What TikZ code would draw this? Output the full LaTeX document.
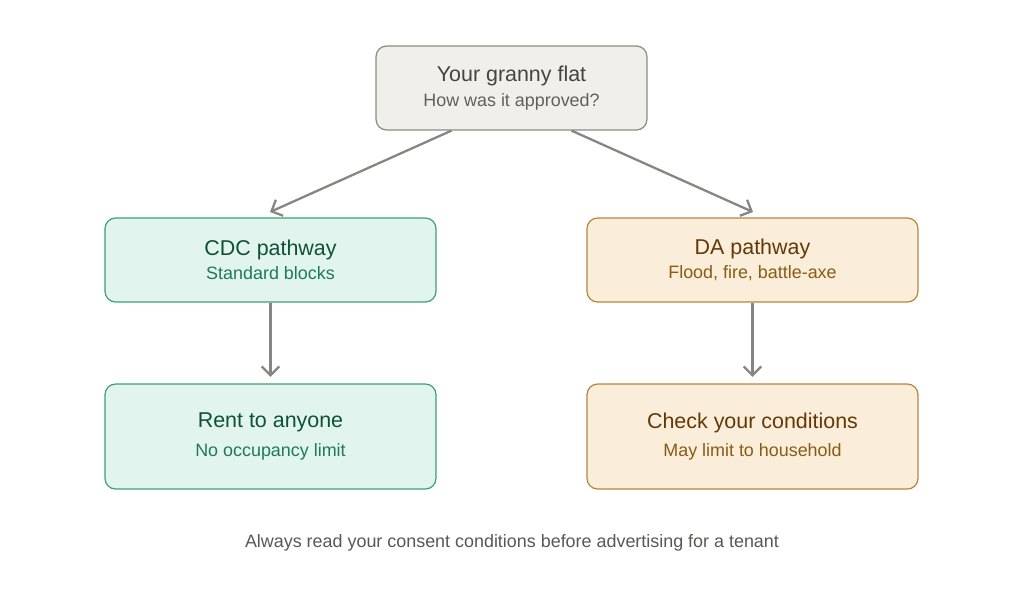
\documentclass[tikz,border=0pt]{standalone}
\usepackage{fontspec}
\setmainfont{Liberation Sans}
\usetikzlibrary{arrows.meta}
\definecolor{greyfill}{HTML}{F1EFEA}
\definecolor{greyline}{HTML}{8C8A84}
\definecolor{greytext}{HTML}{444441}
\definecolor{greensub}{HTML}{1D7A58}
\definecolor{greenfill}{HTML}{E1F5EE}
\definecolor{greenline}{HTML}{3C9E7A}
\definecolor{greentext}{HTML}{0F5138}
\definecolor{orangefill}{HTML}{FAEEDA}
\definecolor{orangeline}{HTML}{B5863F}
\definecolor{orangetext}{HTML}{633806}
\definecolor{orangesub}{HTML}{8A5A12}
\definecolor{arrowgrey}{HTML}{858582}
\begin{document}
\begin{tikzpicture}[
	x=0.02cm, y=-0.02cm,
	box/.style={rounded corners=6pt, draw, line width=0.7pt, align=center, inner sep=0pt},
	root/.style={box, fill=greyfill, draw=greyline, text=greytext, minimum width=5.42cm, minimum height=1.68cm},
	cdc/.style={box, fill=greenfill, draw=greenline, text=greentext, minimum width=6.62cm},
	da/.style={box, fill=orangefill, draw=orangeline, text=orangetext, minimum width=6.62cm},
	flow/.style={draw=arrowgrey, line width=1.3pt, -{Straight Barb[length=5pt,width=10pt]}}
]
\useasboundingbox (0,0) rectangle (1024,602);
% root question
\node[root] (flat) at (511.5,88) {\fontsize{12.2}{17}\selectfont Your granny flat\\[2pt]
	\fontsize{10.2}{14}\selectfont\color{greytext!85} How was it approved?};
% pathways
\node[cdc, minimum height=1.68cm] (cdc) at (270.5,260) {\fontsize{12.2}{17}\selectfont CDC pathway\\[2pt]
	\fontsize{10.2}{14}\selectfont\color{greensub} Standard blocks};
\node[da, minimum height=1.68cm] (da) at (752.5,260) {\fontsize{12.2}{17}\selectfont DA pathway\\[2pt]
	\fontsize{10.2}{14}\selectfont\color{orangesub} Flood, fire, battle-axe};
% outcomes
\node[cdc, minimum height=2.1cm] (rent) at (270.5,436.5) {\fontsize{12.2}{17}\selectfont Rent to anyone\\[4pt]
	\fontsize{10.2}{14}\selectfont\color{greensub} No occupancy limit};
\node[da, minimum height=2.1cm] (check) at (752.5,436.5) {\fontsize{12.2}{17}\selectfont Check your conditions\\[4pt]
	\fontsize{10.2}{14}\selectfont\color{orangesub} May limit to household};
\node[text=greytext!90] (note) at (512,543) {\fontsize{10.2}{14}\selectfont Always read your consent conditions before advertising for a tenant};
\coordinate (cdcin) at (270,212);
\coordinate (dain) at (753,212);
\draw[flow] ([xshift=-1.2cm]flat.south) -- (cdcin);
\draw[flow] ([xshift=1.2cm]flat.south) -- (dain);
\draw[flow] (cdc) -- ([yshift=0.13cm]rent.north);
\draw[flow] (da) -- ([yshift=0.13cm]check.north);
\end{tikzpicture}
\end{document}
